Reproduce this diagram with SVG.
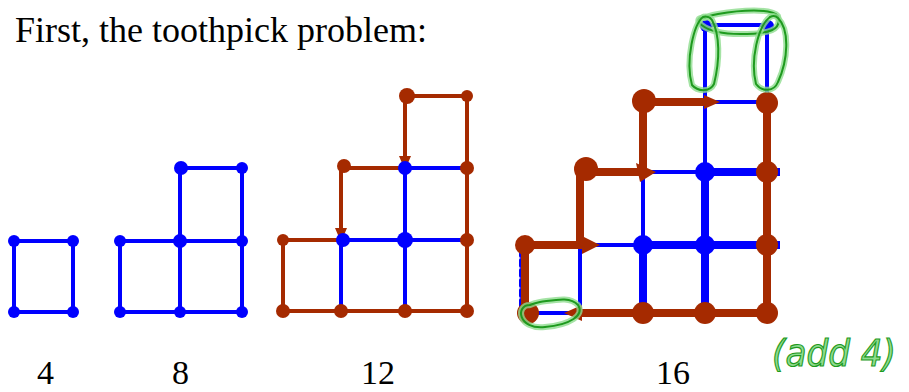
<svg xmlns="http://www.w3.org/2000/svg" width="909" height="392" viewBox="0 0 909 392">
<style>
.t{font-family:"Liberation Serif","Times New Roman",serif;font-size:36px;fill:#000}
.n{font-family:"Liberation Serif","Times New Roman",serif;font-size:34px;fill:#000}
.b{stroke:#0000ff;stroke-width:4;fill:none;stroke-linecap:round}
.bt{stroke:#0000ff;stroke-width:8;fill:none}
.r{stroke:#a52a00;stroke-width:4;fill:none;stroke-linecap:round}
.rt{stroke:#a52a00;stroke-width:8;fill:none;stroke-linecap:round}
.bd{fill:#0000ff}
.rd{fill:#a52a00}
.g1{stroke:#8fdc8f;stroke-width:6;fill:none;stroke-linecap:round;opacity:0.8}
.g2{stroke:#1e9a1e;stroke-width:2;fill:none;stroke-linecap:round}
.gt{font-family:"DejaVu Sans",sans-serif;font-size:38px;fill:#8fdc8f;stroke:#1e9a1e;stroke-width:1.2;font-style:italic}
</style>
<text class="t" x="15" y="42">First, the toothpick problem:</text>

<g id="fig4">
<rect class="b" x="14" y="241" width="59" height="71"/>
<circle class="bd" cx="14" cy="241" r="6"/><circle class="bd" cx="73" cy="241" r="6"/>
<circle class="bd" cx="14" cy="312" r="6"/><circle class="bd" cx="73" cy="312" r="6"/>
</g>

<g id="fig8">
<path class="b" d="M120 241 H242 M120 312 H242 M120 241 V312 M180 168 V312 M242 168 V312 M180 168 H242"/>
<circle class="bd" cx="120" cy="241" r="6"/><circle class="bd" cx="180" cy="241" r="7"/><circle class="bd" cx="242" cy="241" r="6"/>
<circle class="bd" cx="120" cy="312" r="6"/><circle class="bd" cx="180" cy="312" r="6"/><circle class="bd" cx="242" cy="312" r="6"/>
<circle class="bd" cx="181" cy="168" r="7"/><circle class="bd" cx="242" cy="168" r="6"/>
</g>

<g id="fig12">
<path class="b" d="M341 240 V311 M405 168 V311 M341 240 H469 M405 168 H469"/>
<path class="r" d="M283 240 H341 M283 240 V311 M283 311 H467 M467 96 V311 M341 168 H405 M405 96 H467 M341 168 V232 M405 96 V160"/>
<path class="rd" d="M335 228 L347 228 L341 242 Z M399 156 L411 156 L405 170 Z"/>
<circle class="bd" cx="343" cy="240" r="7"/><circle class="bd" cx="405" cy="240" r="8"/><circle class="bd" cx="405" cy="168" r="7"/>
<circle class="rd" cx="283" cy="240" r="6"/><circle class="rd" cx="283" cy="311" r="7"/><circle class="rd" cx="341" cy="311" r="7"/>
<circle class="rd" cx="405" cy="311" r="7"/><circle class="rd" cx="467" cy="311" r="7"/><circle class="rd" cx="467" cy="240" r="7"/>
<circle class="rd" cx="467" cy="168" r="7"/><circle class="rd" cx="467" cy="96" r="6"/><circle class="rd" cx="407" cy="96" r="8"/>
<circle class="rd" cx="344" cy="166" r="7"/>
</g>

<g id="fig16">
<path class="b" d="M705 25 H767 M705 25 V172 M767 25 V102 M705 102 H767 M580 245 V313 M525 313 H580 M643 172 H705 M643 172 V245 M580 245 H643"/>
<path class="b" stroke-dasharray="6 4" d="M521 250 V313"/>
<path class="bt" d="M643 245 H780 M705 172 H780 M643 245 V313 M705 172 V313"/>
<path class="rt" d="M525 245 V313 M525 245 H585 M580 172 V245 M580 172 H640 M643 102 V172 M643 102 H705 M767 102 V313 M580 313 H767"/>
<path class="rd" d="M582 236 L600 245 L582 254 Z M636 163 L656 172 L640 182 Z M704 95 L720 102 L704 109 Z M582 305 L564 313 L582 321 Z"/>
<circle class="bd" cx="643" cy="245" r="10"/><circle class="bd" cx="705" cy="245" r="10"/><circle class="bd" cx="705" cy="172" r="10"/>
<circle class="bd" cx="706" cy="26" r="6"/><circle class="bd" cx="768" cy="26" r="6"/>
<circle class="rd" cx="525" cy="245" r="10"/><circle class="rd" cx="528" cy="313" r="11"/>
<circle class="rd" cx="643" cy="313" r="11"/><circle class="rd" cx="705" cy="313" r="11"/><circle class="rd" cx="767" cy="313" r="11"/>
<circle class="rd" cx="767" cy="245" r="11"/><circle class="rd" cx="767" cy="172" r="11"/><circle class="rd" cx="767" cy="103" r="11"/>
<circle class="rd" cx="644" cy="101" r="12"/><circle class="rd" cx="586" cy="169" r="12"/>
</g>

<g id="green">
<path class="g1" d="M705 18 C690 16 700 34 740 34 C770 34 782 30 778 16 C772 8 740 10 718 14 C712 15 706 17 705 18"/>
<path class="g2" d="M705 18 C690 16 700 34 740 34 C770 34 782 30 778 16 C772 8 740 10 718 14 C712 15 706 17 705 18"/>
<path class="g1" d="M703 17 C694 24 685 60 692 85 C698 92 710 92 714 84 C720 60 720 35 712 20 C710 17 706 16 703 17"/>
<path class="g2" d="M703 17 C694 24 685 60 692 85 C698 92 710 92 714 84 C720 60 720 35 712 20 C710 17 706 16 703 17"/>
<path class="g1" d="M770 17 C758 26 750 60 756 84 C762 92 774 92 778 82 C788 60 790 30 778 18 C775 15 772 16 770 17"/>
<path class="g2" d="M770 17 C758 26 750 60 756 84 C762 92 774 92 778 82 C788 60 790 30 778 18 C775 15 772 16 770 17"/>
<path class="g1" d="M530 305 C515 305 518 330 545 327 C570 325 585 315 578 305 C570 296 555 300 540 302 C535 303 532 304 530 305"/>
<path class="g2" d="M530 305 C515 305 518 330 545 327 C570 325 585 315 578 305 C570 296 555 300 540 302 C535 303 532 304 530 305"/>
<text class="gt" x="772" y="366" textLength="124" lengthAdjust="spacingAndGlyphs">(add 4)</text>
</g>

<text class="n" x="37" y="384">4</text>
<text class="n" x="172" y="384">8</text>
<text class="n" x="361" y="384">12</text>
<text class="n" x="656" y="384">16</text>
</svg>
